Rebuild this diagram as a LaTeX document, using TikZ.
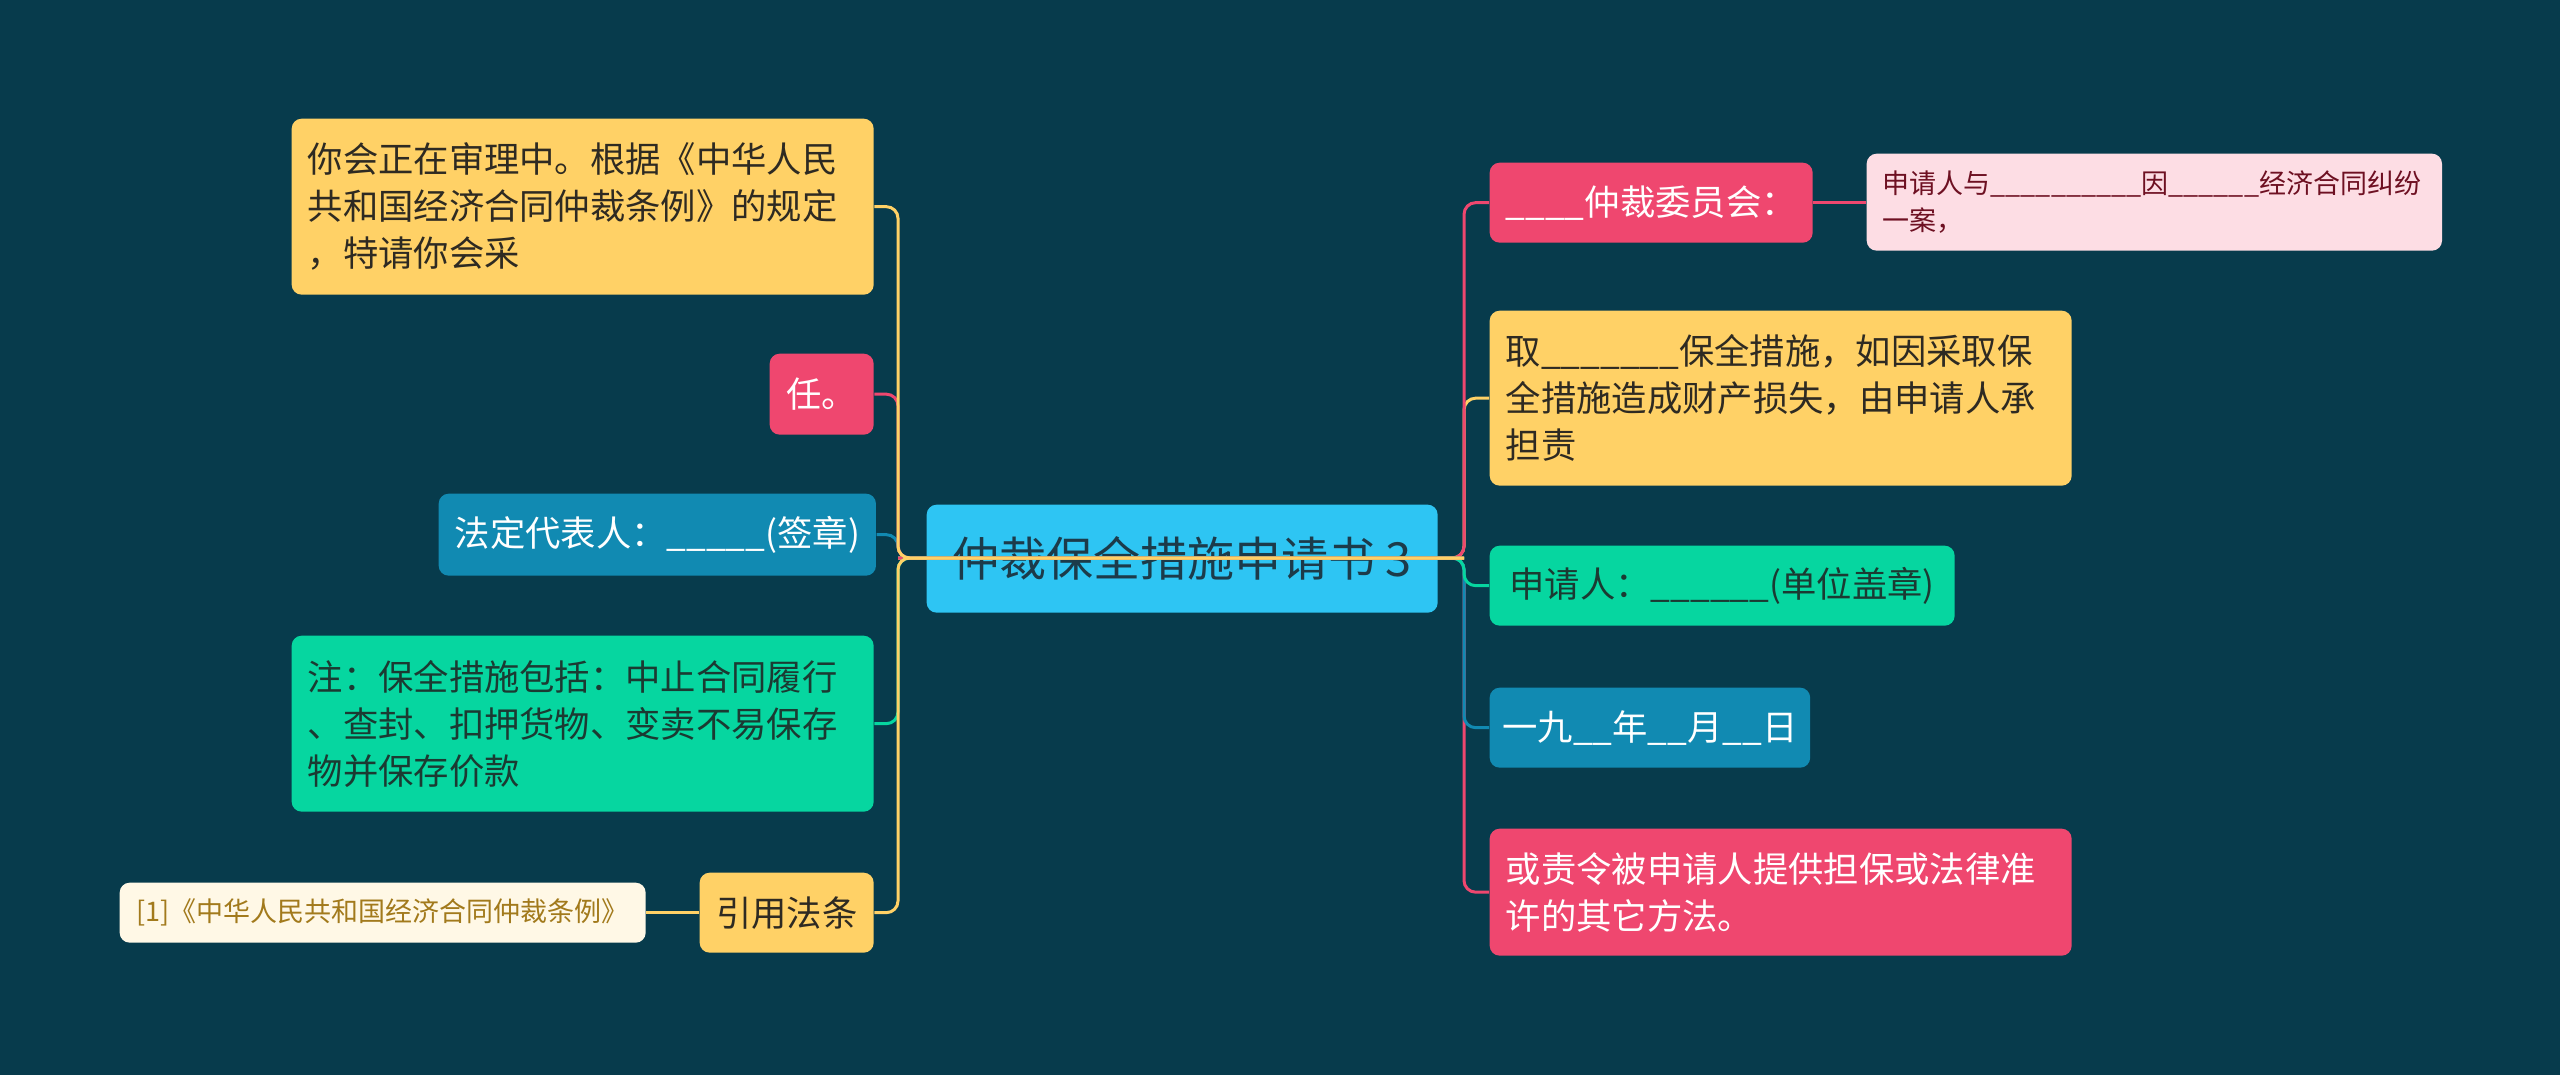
\documentclass[tikz,border=0pt]{standalone}
\usepackage{fontspec}
\setmainfont{Noto Sans CJK SC}
\definecolor{bg}{HTML}{073B4C}
\definecolor{cpink}{HTML}{EF476F}
\definecolor{cyel}{HTML}{FFD166}
\definecolor{cgreen}{HTML}{06D6A0}
\definecolor{cblue}{HTML}{118AB2}
\definecolor{croot}{HTML}{2EC5F3}
\definecolor{tdark}{HTML}{2E2A22}
\definecolor{tgreen}{HTML}{1B3A32}
\definecolor{troot}{HTML}{1C3B4A}
\definecolor{ccream}{HTML}{FFF8E6}
\definecolor{tgold}{HTML}{A27A1C}
\definecolor{clpink}{HTML}{FDDDE4}
\definecolor{tred}{HTML}{6E1022}
\tikzset{
  box/.style={rounded corners=3pt, anchor=north west, inner xsep=4.8pt, inner ysep=0pt, align=left,
    font=\fontsize{10.6pt}{14.1pt}\selectfont},
  multi/.style={box, text width=165pt},
  small/.style={box, font=\fontsize{8.1pt}{11pt}\selectfont},
  yel/.style={fill=cyel, text=tdark},
  pnk/.style={fill=cpink, text=white},
  grn/.style={fill=cgreen, text=tgreen},
  blu/.style={fill=cblue, text=white},
  conn/.style={line width=0.9pt, rounded corners=3.5pt},
}
\begin{document}
\begin{tikzpicture}[x=0.3pt,y=-0.3pt]
\fill[bg] (0,0) rectangle (2560,1075);
\useasboundingbox (0,0) rectangle (2560,1075);
\coordinate (lt) at (898,558);
\coordinate (rt) at (1464,558);
% root
\node[box, fill=croot, text=troot, align=center, minimum width=153.3pt, minimum height=32.4pt,
  font=\fontsize{14.1pt}{17pt}\selectfont] (root) at (926,504) {仲裁保全措施申请书 3};
% left
\node[multi, yel, minimum height=52.8pt] (L1) at (291,118)
  {你会正在审理中。根据《中华人民\\共和国经济合同仲裁条例》的规定\\，特请你会采};
\node[box, pnk, minimum width=31.2pt, minimum height=24.3pt] (L2) at (769,353) {任。};
\node[box, blu, minimum width=130.5pt, minimum height=24.6pt] (L3) at (438,493) {法定代表人：\_\_\_\_\_(签章)};
\node[multi, grn, minimum height=52.8pt] (L4) at (291,635)
  {注：保全措施包括：中止合同履行\\、查封、扣押货物、变卖不易保存\\物并保存价款};
\node[box, yel, minimum width=52.2pt, minimum height=24pt] (L5) at (699,872) {引用法条};
\node[small, fill=ccream, text=tgold, minimum width=157.8pt, minimum height=18pt] (L5c) at (119,882)
  {[1]《中华人民共和国经济合同仲裁条例》};
% right
\node[box, pnk, minimum width=96.9pt, minimum height=24pt] (R1) at (1489,162) {\_\_\_\_仲裁委员会：};
\node[small, fill=clpink, text=tred, minimum width=172.5pt, minimum height=29.1pt, text width=163pt] (R1c) at (1866,153)
  {申请人与\_\_\_\_\_\_\_\_\_\_因\_\_\_\_\_\_经济合同纠纷\\一案，};
\node[multi, yel, minimum height=52.5pt] (R2) at (1489,310)
  {取\_\_\_\_\_\_\_保全措施，如因采取保\\全措施造成财产损失，由申请人承\\担责};
\node[box, grn, minimum width=139.5pt, minimum height=24pt] (R3) at (1489,545) {申请人：\_\_\_\_\_\_(单位盖章)};
\node[box, blu, minimum width=91.2pt, minimum height=24pt, inner xsep=3.8pt] (R4) at (1489,687) {一九\_\_年\_\_月\_\_日};
\node[multi, pnk, minimum height=38.1pt] (R5) at (1489,828)
  {或责令被申请人提供担保或法律准\\许的其它方法。};
% connectors right
\draw[conn, cpink] (lt) -- (rt) -- (rt |- R5.west) -- (R5.west);
\draw[conn, cblue] (lt) -- (rt) -- (rt |- R4.west) -- (R4.west);
\draw[conn, cgreen] (lt) -- (rt) -- (rt |- R3.west) -- (R3.west);
\draw[conn, cyel] (lt) -- (rt) -- (rt |- R2.west) -- (R2.west);
\draw[conn, cpink] (lt) -- (rt) -- (rt |- R1.west) -- (R1.west);
\draw[conn, cpink] (R1.east) -- (R1c.west |- R1.east);
% connectors left
\draw[conn, cgreen] (rt) -- (lt) -- (lt |- L4.east) -- (L4.east);
\draw[conn, cblue] (rt) -- (lt) -- (lt |- L3.east) -- (L3.east);
\draw[conn, cpink] (rt) -- (lt) -- (lt |- L2.east) -- (L2.east);
\draw[conn, cyel] (rt) -- (lt) -- (lt |- L5.east) -- (L5.east);
\draw[conn, cyel] (rt) -- (lt) -- (lt |- L1.east) -- (L1.east);
\draw[conn, cyel] (L5.west) -- (L5c.east |- L5.west);
\end{tikzpicture}
\end{document}
